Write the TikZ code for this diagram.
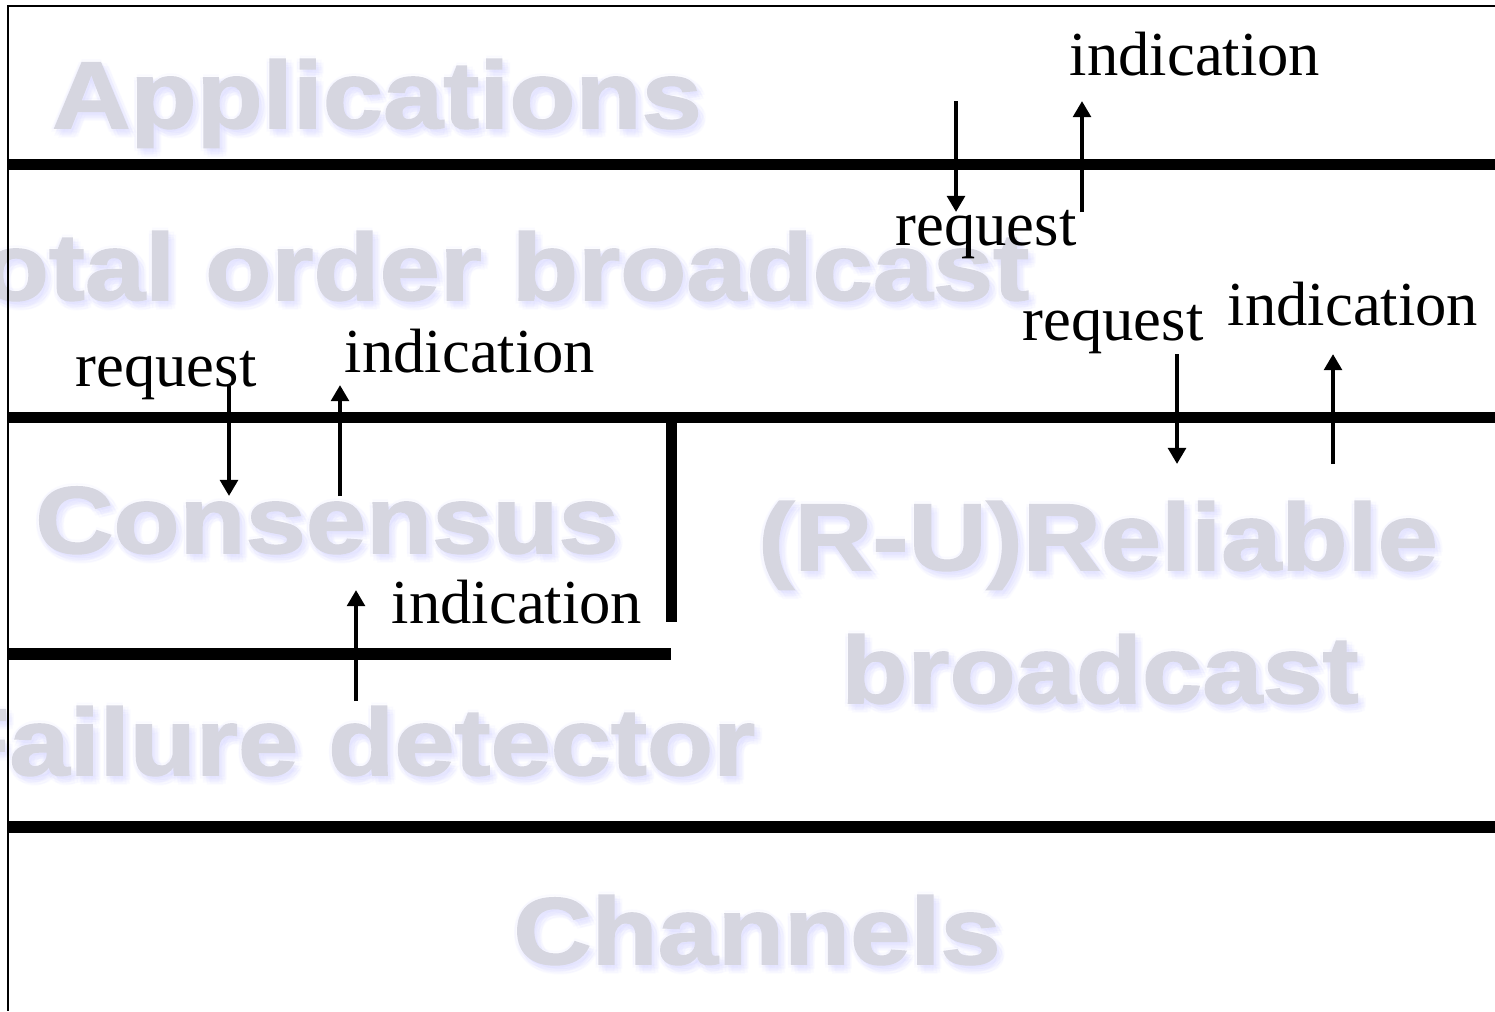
\documentclass[tikz,border=0pt]{standalone}
\usepackage{fontspec}
\setmainfont{Liberation Serif}
\newfontfamily\layerfont[FakeStretch=1.14,FakeBold=1.6]{Liberation Sans Bold}
\usetikzlibrary{arrows.meta}
\definecolor{layergray}{RGB}{214,214,224}
\definecolor{layerglow}{RGB}{200,200,255}
\tikzset{
  layer/.style={font=\layerfont\fontsize{27}{30}\selectfont, text=layergray, inner sep=0pt},
  glow/.style={layer, text=layerglow, opacity=0.05},
  bound/.style={line width=3.4pt, line cap=butt},
  frame/.style={line width=0.6pt},
  call/.style={line width=1.15pt, -{Triangle[width=5pt,length=4.6pt]}},
  lbl/.style={font=\fontsize{17.8}{20}\selectfont, inner sep=0pt}
}
% name, anchor, position, text
\newcommand{\layername}[4]{%
  \foreach \dx/\dy [count=\k] in {-3/3,3/3,0/-3,3/6,6/6,0/7,6/1,-3/0,4/9,8/4,2/2,5/4,1/5,7/8}
    \node[glow, anchor=#2, xshift=\dx*0.01cm, yshift=-\dy*0.01cm] (#1-g\k) at (#3) {#4};
  \node[layer, anchor=#2] (#1) at (#3) {#4};
}
\begin{document}
\begin{tikzpicture}[x=0.01cm, y=-0.01cm]
\useasboundingbox (0,0) rectangle (1495,1011);
\clip (0,0) rectangle (1495,1011);
% layer names
\layername{app}{base}{377,128}{Applications}
\layername{tob}{base east}{1030,300}{Total order broadcast}
\layername{cons}{base}{327,553}{Consensus}
\layername{rel}{base}{1098,570}{(R-U)Reliable}
\layername{relb}{base}{1100,703}{broadcast}
\layername{fd}{base east}{756,775}{Failure detector}
\layername{chan}{base}{757,964}{Channels}
% frame and layer boundaries
\draw[frame] (1495,6) -- (8,6) -- (8,1011);
\draw[bound] (8,164.5) -- (1495,164.5);\draw[bound] (8,417.5) -- (1495,417.5);\draw[bound] (8,654) -- (671,654);\draw[bound] (8,827) -- (1495,827);
\draw[bound] (671.5,412) -- (671.5,622);
% end points of the calls
\coordinate (toreq-a) at (956,101);\coordinate (toreq-b) at (956,212);
\coordinate (toind-a) at (1082,212);\coordinate (toind-b) at (1082,101);
\coordinate (rbreq-a) at (1177,354);\coordinate (rbreq-b) at (1177,464);
\coordinate (rbind-a) at (1333,464);\coordinate (rbind-b) at (1333,354);
\coordinate (cnreq-a) at (229,386);\coordinate (cnreq-b) at (229,496);
\coordinate (cnind-a) at (340,496);\coordinate (cnind-b) at (340,385);
\coordinate (fdind-a) at (356,701);\coordinate (fdind-b) at (356,590);
\draw[call] (toreq-a) -- (toreq-b);\draw[call] (toind-a) -- (toind-b);
\draw[call] (rbreq-a) -- (rbreq-b);\draw[call] (rbind-a) -- (rbind-b);
\draw[call] (cnreq-a) -- (cnreq-b);\draw[call] (cnind-a) -- (cnind-b);
\draw[call] (fdind-a) -- (fdind-b);
% labels
\begin{scope}[every node/.style={lbl, anchor=base}]
  \node (toind) at (1195,75) {indication};\node (toreq) at (986,245) {request};
  \node (rbreq) at (1113,340) {request};\node (rbind) at (1353,325) {indication};
  \node (cnreq) at (166,386) {request};\node (cnind) at (470,372) {indication};
  \node (fdind) at (517,623) {indication};
\end{scope}
\end{tikzpicture}
\end{document}
